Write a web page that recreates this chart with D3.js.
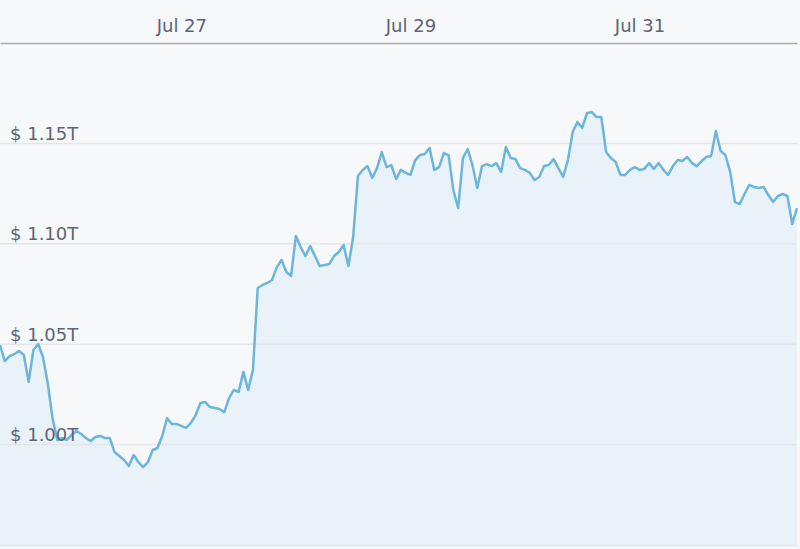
<!DOCTYPE html>
<html>
<head>
<meta charset="utf-8">
<script src="https://cdn.jsdelivr.net/npm/d3@7"></script>
<style>
  html, body { margin: 0; padding: 0; background: #f7f8fa; }
  svg { display: block; }
  text { font-family: "DejaVu Sans", Verdana, sans-serif; }
</style>
</head>
<body>
<svg id="chart" width="800" height="549"></svg>
<script>
// ---- data (market cap in trillions USD, hourly from Jul 25 10:00 UTC) ----
const startTime = "2024-07-25T10:00:00Z";
const values = [
  1.0496, 1.0416, 1.0441, 1.0451, 1.0466, 1.0446, 1.0312, 1.0471, 1.0501, 1.0436,
  1.0307, 1.0132, 1.0023, 1.0033, 1.0023, 1.0048, 1.0068, 1.0053, 1.0033, 1.0018,
  1.0038, 1.0043, 1.0033, 1.0033, 0.9963, 0.9943, 0.9923, 0.9893, 0.9948, 0.9913,
  0.9888, 0.9913, 0.9973, 0.9983, 1.0043, 1.0132, 1.0103, 1.0103, 1.0093, 1.0083,
  1.0108, 1.0147, 1.0207, 1.0212, 1.0187, 1.0182, 1.0177, 1.0162, 1.0232, 1.0272,
  1.0262, 1.0362, 1.0272, 1.0372, 1.0780, 1.0795, 1.0805, 1.0820, 1.0884, 1.0919,
  1.0860, 1.0840, 1.1039, 1.0984, 1.0939, 1.0989, 1.0939, 1.0889, 1.0894, 1.0899,
  1.0939, 1.0959, 1.0994, 1.0889, 1.1034, 1.1338, 1.1368, 1.1387, 1.1328, 1.1377,
  1.1457, 1.1382, 1.1392, 1.1323, 1.1368, 1.1353, 1.1343, 1.1417, 1.1442, 1.1447,
  1.1477, 1.1368, 1.1382, 1.1452, 1.1442, 1.1268, 1.1178, 1.1427, 1.1472, 1.1392,
  1.1278, 1.1387, 1.1397, 1.1387, 1.1402, 1.1358, 1.1482, 1.1427, 1.1422, 1.1377,
  1.1368, 1.1353, 1.1318, 1.1333, 1.1387, 1.1392, 1.1422, 1.1377, 1.1333, 1.1417,
  1.1557, 1.1607, 1.1577, 1.1651, 1.1656, 1.1631, 1.1631, 1.1457, 1.1427, 1.1407,
  1.1343, 1.1343, 1.1368, 1.1382, 1.1368, 1.1373, 1.1402, 1.1373, 1.1402, 1.1368,
  1.1343, 1.1387, 1.1417, 1.1412, 1.1432, 1.1402, 1.1387, 1.1412, 1.1432, 1.1437,
  1.1562, 1.1462, 1.1442, 1.1358, 1.1208, 1.1198, 1.1248, 1.1293, 1.1283, 1.1278,
  1.1283, 1.1243, 1.1208, 1.1238, 1.1248, 1.1238, 1.1099, 1.1178
];
const xTickDates = ["2024-07-27", "2024-07-29", "2024-07-31"];
const yTickValues = [1.00, 1.05, 1.10, 1.15];
const yDomain = [0.95, 1.20];

// ---- build ----
const t0 = new Date(startTime);
const data = values.map((v, i) => ({ date: d3.utcHour.offset(t0, i), value: v }));

const W = 800, H = 549;
const plot = { left: 0, right: 797, top: 43, bottom: 545 };

const svg = d3.select("#chart");

svg.append("rect").attr("x", 0).attr("y", 0).attr("width", W).attr("height", H)
  .attr("fill", "#f7f8fa");

const x = d3.scaleUtc()
  .domain(d3.extent(data, d => d.date))
  .range([plot.left, plot.right]);
const y = d3.scaleLinear().domain(yDomain).range([plot.bottom, plot.top]);

// area
svg.append("path")
  .datum(data)
  .attr("fill", "#e9f1f9")
  .attr("d", d3.area().x(d => x(d.date)).y0(plot.bottom).y1(d => y(d.value)));

// gridlines
svg.append("g").selectAll("line").data(yTickValues).join("line")
  .attr("x1", plot.left).attr("x2", plot.right)
  .attr("y1", d => y(d)).attr("y2", d => y(d))
  .attr("stroke", "#e3e6eb").attr("stroke-width", 1.5);

// line
svg.append("path")
  .datum(data)
  .attr("fill", "none")
  .attr("stroke", "#6cb6da")
  .attr("stroke-width", 2.5)
  .attr("stroke-linejoin", "round")
  .attr("d", d3.line().x(d => x(d.date)).y(d => y(d.value)));

// bottom border line
svg.append("line").attr("x1", 0).attr("x2", plot.right)
  .attr("y1", plot.bottom + 0.5).attr("y2", plot.bottom + 0.5)
  .attr("stroke", "#e2e5ea").attr("stroke-width", 1.5);

// top axis
const xAxis = d3.axisTop(x)
  .tickValues(xTickDates.map(s => new Date(s + "T00:00:00Z")))
  .tickFormat(d3.utcFormat("%b %d"))
  .tickSize(0).tickPadding(11);
const gx = svg.append("g").attr("transform", `translate(0,${plot.top})`).call(xAxis);
gx.select(".domain").attr("stroke", "#a8abb1").attr("stroke-width", 1.5);
gx.selectAll("text").attr("fill", "#5b6578").attr("font-size", 18)
  .attr("font-family", "DejaVu Sans, Verdana, sans-serif");

// y labels (inside plot, left)
const yAxis = d3.axisRight(y).tickValues(yTickValues)
  .tickFormat(d => "$ " + d3.format(".2f")(d) + "T")
  .tickSize(0).tickPadding(0);
const gy = svg.append("g").attr("transform", "translate(10,0)").call(yAxis);
gy.select(".domain").remove();
gy.selectAll("text").attr("fill", "#5b6578").attr("font-size", 18)
  .attr("font-family", "DejaVu Sans, Verdana, sans-serif")
  .attr("dy", "-4px").attr("dominant-baseline", "auto");
</script>
</body>
</html>
